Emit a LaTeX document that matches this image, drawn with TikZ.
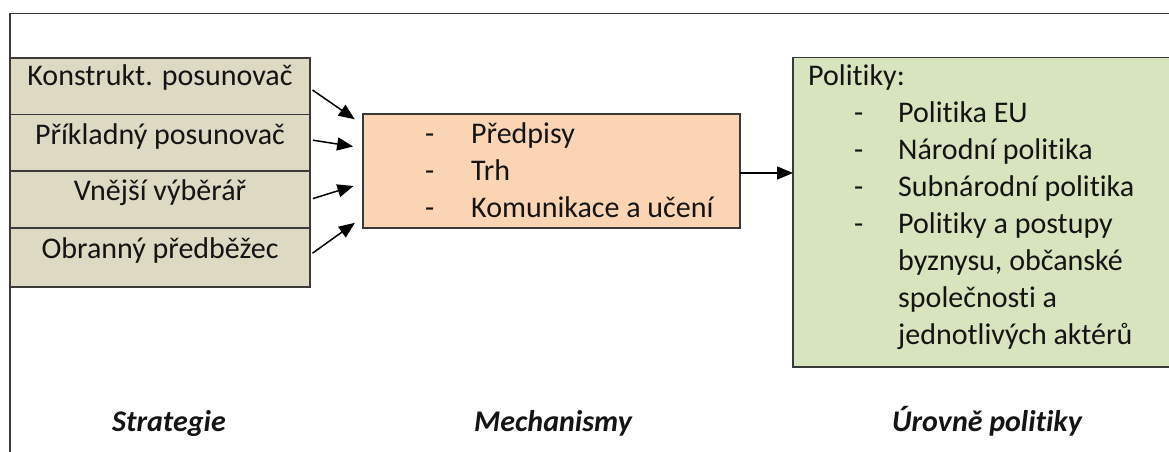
\documentclass[tikz,border=0pt]{standalone}
\usepackage{fontspec}
\setmainfont{Carlito}[Ligatures={NoCommon,NoContextual,NoRare}]
\usetikzlibrary{arrows.meta,calc}
\definecolor{tanfill}{HTML}{DDD9C3}
\definecolor{peachfill}{HTML}{FBD4B4}
\definecolor{greenfill}{HTML}{D7E4BD}
\definecolor{edgegray}{HTML}{3A3A3A}
\definecolor{inkcol}{HTML}{141414}

\begin{document}
\begin{tikzpicture}[x=1pt,y=-1pt,
  box/.style={draw=edgegray,line width=1.4pt,inner sep=0pt,outer sep=0pt},
  rowbox/.style={box,fill=tanfill,minimum width=300pt},
  bodytext/.style={font=\fontsize{30}{37}\selectfont,text=inkcol,inner sep=0pt,anchor=base west},
  rowtext/.style={bodytext,anchor=base},
  headtext/.style={font=\fontsize{30}{37}\selectfont\bfseries\itshape,text=inkcol,inner sep=0pt,anchor=base},
  conn/.style={draw=black,line width=1.5pt,-{Triangle[length=16pt,width=13pt]}}
]
\useasboundingbox (0,0) rectangle (1169,452);
\clip (0,0) rectangle (1169,452);

% outer frame (runs past the right and bottom edges)
\draw[edgegray,line width=1.4pt] (10,13.3) rectangle (1200,480);

% strategy rows
\node[rowbox,minimum height=56.5pt] (s1) at (160,86.25) {};
\node[rowbox,minimum height=56.5pt] (s2) at (160,142.75) {};
\node[rowbox,minimum height=57pt]   (s3) at (160,199.5) {};
\node[rowbox,minimum height=59pt]   (s4) at (160,257.5) {};
\node[rowtext] (t1) at (160,85)  {Konstrukt. posunovač};
\node[rowtext] (t2) at (160,144) {Příkladný posunovač};
\node[rowtext] (t3) at (160,200) {Vnější výběrář};
\node[rowtext] (t4) at (160,258) {Obranný předběžec};

% mechanisms
\node[box,fill=peachfill,minimum width=377pt,minimum height=114pt] (m) at (551.5,171) {};
\node[bodytext] (md1) at (425,143) {-};
\node[bodytext] (md2) at (425,180) {-};
\node[bodytext] (md3) at (425,217) {-};
\node[bodytext] (m1) at (471,143) {Předpisy};
\node[bodytext] (m2) at (471,180) {Trh};
\node[bodytext] (m3) at (471,217) {Komunikace a učení};

% policy levels
\node[box,fill=greenfill,minimum width=387pt,minimum height=309.3pt] (p) at (986.5,212.35) {};
\node[bodytext] (p0) at (808,85) {Politiky:};
\node[bodytext] (pd1) at (854,122) {-};
\node[bodytext] (pd2) at (854,159) {-};
\node[bodytext] (pd3) at (854,196) {-};
\node[bodytext] (pd4) at (854,233) {-};
\node[bodytext] (p1) at (898,122) {Politika EU};
\node[bodytext] (p2) at (898,159) {Národní politika};
\node[bodytext] (p3) at (898,196) {Subnárodní politika};
\node[bodytext] (p4) at (898,233) {Politiky a postupy};
\node[bodytext] (p5) at (898,270) {byznysu, občanské};
\node[bodytext] (p6) at (898,307) {společnosti a};
\node[bodytext] (p7) at (898,344) {jednotlivých aktérů};

% connectors
\draw[conn,shorten <=3pt,shorten >=10pt] ([yshift=-2pt]s1.east) -- ([yshift=46pt]m.west);
\draw[conn,shorten <=3pt,shorten >=10pt] ([yshift=3pt]s2.east) -- ([yshift=23pt]m.west);
\draw[conn,shorten <=3pt,shorten >=10pt] ([yshift=0pt]s3.east) -- ([yshift=-12pt]m.west);
\draw[conn,shorten <=3pt,shorten >=10pt] ([yshift=2.5pt]s4.east) -- ([yshift=-46pt]m.west);
\draw[conn] ([yshift=-2pt]m.east) -- ([yshift=-2pt]m.east -| p.west);

% column headings
\node[headtext] (h1) at (169,431) {Strategie};
\node[headtext] (h2) at (553,431) {Mechanismy};
\node[headtext] (h3) at (987,431) {Úrovně politiky};
\end{tikzpicture}
\end{document}
